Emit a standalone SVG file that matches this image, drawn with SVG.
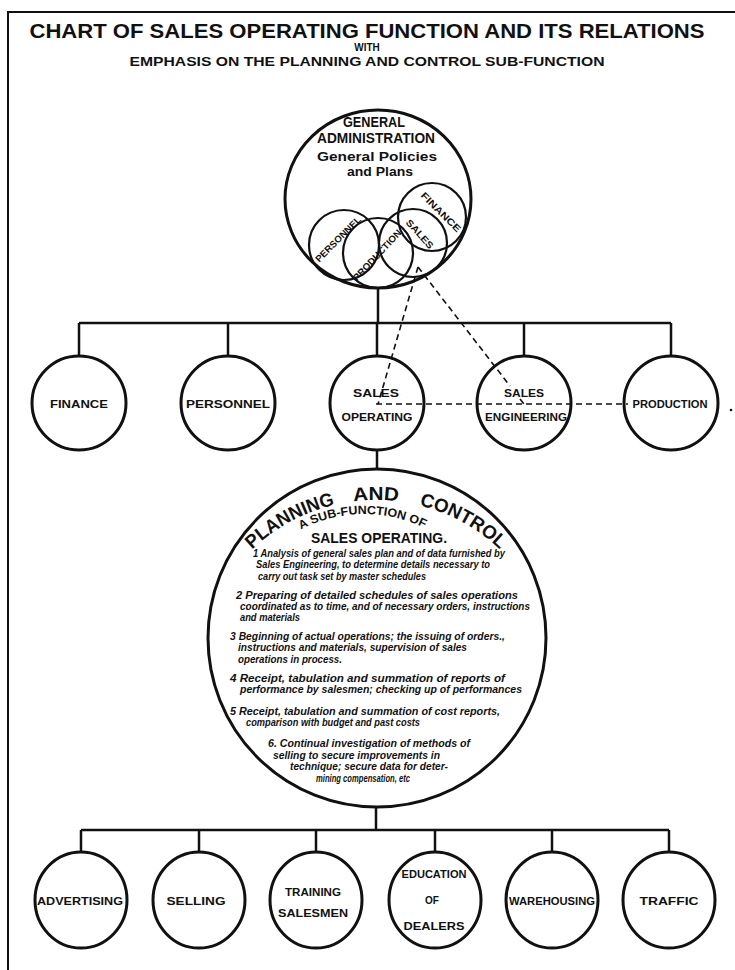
<svg xmlns="http://www.w3.org/2000/svg" width="735" height="970" viewBox="0 0 735 970">
<style>
  .frame { fill: none; stroke: #111; stroke-width: 2; }
  .node { fill: none; stroke: #111; stroke-width: 3; }
  .sub { fill: none; stroke: #111; stroke-width: 2.2; }
  .wire { fill: none; stroke: #111; stroke-width: 2.5; }
  .dash { fill: none; stroke: #111; stroke-width: 1.6; stroke-dasharray: 6 4; }
  .lb { font-family: "Liberation Sans", Arial, sans-serif; font-weight: bold; fill: #111; text-anchor: middle; }
  .arc { font-family: "Liberation Sans", Arial, sans-serif; font-weight: bold; fill: #111; }
  .it { font-family: "Liberation Sans", Arial, sans-serif; font-style: italic; font-weight: bold; font-size: 10px; fill: #111; }
</style>
<defs>
  <!-- baselines for the curved lettering inside the sub-function circle -->
  <path id="arcBig" d="M250,551.5 A180,180 0 0 1 502,551.5"/>
  <path id="arcSmall" d="M300,530 A136,136 0 0 1 428,530"/>
</defs>
<rect x="0" y="0" width="735" height="970" fill="#fff"/>

<!-- sheet border -->
<path class="frame" d="M8,970 V12 H735"/>

<!-- heading -->
<g id="heading">
  <text class="lb" x="367" y="38" font-size="20" textLength="675" lengthAdjust="spacingAndGlyphs">CHART OF SALES OPERATING FUNCTION AND ITS RELATIONS</text>
  <text class="lb" x="367" y="51" font-size="10">WITH</text>
  <text class="lb" x="367" y="66" font-size="13" textLength="475" lengthAdjust="spacingAndGlyphs">EMPHASIS ON THE PLANNING AND CONTROL SUB-FUNCTION</text>
</g>

<!-- connectors -->
<g id="connectors">
  <path class="wire" d="M378,288 V323 M79,323 H671 M79,323 V356 M228,323 V356 M377,323 V356 M524,323 V356 M671,323 V356"/>
  <path class="wire" d="M377,449 V469"/>
  <path class="wire" d="M376,807 V830 M81,830 H669 M81,830 V852 M199,830 V852 M316,830 V852 M435,830 V852 M552,830 V852 M669,830 V852"/>
  <path class="dash" d="M418,267 L378,404"/>
  <path class="dash" d="M418,267 L510,386 M520,399 L524,404"/>
  <path class="dash" d="M376,404 H628"/>
  <circle cx="731" cy="410" r="1.3" fill="#111"/>
</g>

<!-- top node -->
<g id="general-administration">
  <ellipse class="node" cx="378" cy="199" rx="93" ry="89"/>
  <text class="lb" x="374" y="127" font-size="14" textLength="62" lengthAdjust="spacingAndGlyphs">GENERAL</text>
  <text class="lb" x="376" y="143" font-size="14" textLength="118" lengthAdjust="spacingAndGlyphs">ADMINISTRATION</text>
  <text class="lb" x="377" y="161" font-size="13" textLength="120" lengthAdjust="spacingAndGlyphs">General Policies</text>
  <text class="lb" x="380" y="176" font-size="13" textLength="66" lengthAdjust="spacingAndGlyphs">and Plans</text>
  <circle class="sub" cx="344" cy="245" r="35"/>
  <circle class="sub" cx="378" cy="253" r="35"/>
  <circle class="sub" cx="413" cy="243" r="34"/>
  <circle class="sub" cx="432" cy="217" r="34"/>
  <text class="lb" font-size="9.5" transform="translate(338,239) rotate(-45)" y="3.5" textLength="60" lengthAdjust="spacingAndGlyphs">PERSONNEL</text>
  <text class="lb" font-size="9.5" transform="translate(377,255) rotate(-47)" y="3.5" textLength="66" lengthAdjust="spacingAndGlyphs">PRODUCTION</text>
  <text class="lb" font-size="9.5" transform="translate(420,234) rotate(48)" y="3.5" textLength="36" lengthAdjust="spacingAndGlyphs">SALES</text>
  <text class="lb" font-size="9.5" transform="translate(441,212) rotate(45)" y="3.5" textLength="52" lengthAdjust="spacingAndGlyphs">FINANCE</text>
</g>

<!-- second level -->
<g id="finance">
  <ellipse class="node" cx="79" cy="403" rx="47" ry="47"/>
  <text class="lb" x="79" y="408" font-size="11" textLength="58" lengthAdjust="spacingAndGlyphs">FINANCE</text>
</g>
<g id="personnel">
  <ellipse class="node" cx="228" cy="403" rx="47" ry="47"/>
  <text class="lb" x="228" y="408" font-size="11" textLength="84" lengthAdjust="spacingAndGlyphs">PERSONNEL</text>
</g>
<g id="sales-operating">
  <ellipse class="node" cx="377" cy="403" rx="47" ry="47"/>
  <text class="lb" x="376" y="397" font-size="11" textLength="46" lengthAdjust="spacingAndGlyphs">SALES</text>
  <text class="lb" x="377" y="421" font-size="11" textLength="71" lengthAdjust="spacingAndGlyphs">OPERATING</text>
</g>
<g id="sales-engineering">
  <ellipse class="node" cx="524" cy="403" rx="47" ry="47"/>
  <text class="lb" x="524" y="397" font-size="11" textLength="40" lengthAdjust="spacingAndGlyphs">SALES</text>
  <text class="lb" x="526" y="421" font-size="10" textLength="82" lengthAdjust="spacingAndGlyphs">ENGINEERING</text>
</g>
<g id="production">
  <ellipse class="node" cx="671" cy="403" rx="47" ry="47"/>
  <text class="lb" x="670" y="408" font-size="10" textLength="75" lengthAdjust="spacingAndGlyphs">PRODUCTION</text>
</g>

<!-- planning and control sub-function -->
<g id="planning-and-control">
  <circle class="node" cx="377" cy="638" r="169"/>
  <text class="arc" font-size="19"><textPath href="#arcBig" startOffset="3" textLength="95" lengthAdjust="spacingAndGlyphs">PLANNING</textPath></text>
  <text class="arc" font-size="19"><textPath href="#arcBig" startOffset="117" textLength="45" lengthAdjust="spacingAndGlyphs">AND</textPath></text>
  <text class="arc" font-size="19"><textPath href="#arcBig" startOffset="183" textLength="93" lengthAdjust="spacingAndGlyphs">CONTROL</textPath></text>
  <text class="arc" font-size="12"><textPath href="#arcSmall" startOffset="1" textLength="128" lengthAdjust="spacingAndGlyphs">A SUB-FUNCTION OF</textPath></text>
  <text class="lb" x="379" y="543" font-size="15" textLength="136" lengthAdjust="spacingAndGlyphs">SALES OPERATING.</text>
  <text class="it" x="253" y="557" textLength="252" lengthAdjust="spacingAndGlyphs">1 Analysis of general sales plan and of data furnished by</text>
  <text class="it" x="256" y="568" textLength="234" lengthAdjust="spacingAndGlyphs">Sales Engineering, to determine details necessary to</text>
  <text class="it" x="258" y="580" textLength="168" lengthAdjust="spacingAndGlyphs">carry out task set by master schedules</text>
  <text class="it" x="236" y="599" textLength="282" lengthAdjust="spacingAndGlyphs">2 Preparing of detailed schedules of sales operations</text>
  <text class="it" x="240" y="610" textLength="290" lengthAdjust="spacingAndGlyphs">coordinated as to time, and of necessary orders, instructions</text>
  <text class="it" x="240" y="621" textLength="60" lengthAdjust="spacingAndGlyphs">and materials</text>
  <text class="it" x="230" y="640" textLength="275" lengthAdjust="spacingAndGlyphs">3 Beginning of actual operations; the issuing of orders.,</text>
  <text class="it" x="238" y="651" textLength="229" lengthAdjust="spacingAndGlyphs">instructions and materials, supervision of sales</text>
  <text class="it" x="238" y="663" textLength="104" lengthAdjust="spacingAndGlyphs">operations in process.</text>
  <text class="it" x="230" y="682" textLength="275" lengthAdjust="spacingAndGlyphs">4 Receipt, tabulation and summation of reports of</text>
  <text class="it" x="240" y="693" textLength="282" lengthAdjust="spacingAndGlyphs">performance by salesmen; checking up of performances</text>
  <text class="it" x="230" y="715" textLength="270" lengthAdjust="spacingAndGlyphs">5 Receipt, tabulation and summation of cost reports,</text>
  <text class="it" x="246" y="726" textLength="174" lengthAdjust="spacingAndGlyphs">comparison with budget and past costs</text>
  <text class="it" x="268" y="747" textLength="202" lengthAdjust="spacingAndGlyphs">6. Continual investigation of methods of</text>
  <text class="it" x="273" y="759" textLength="167" lengthAdjust="spacingAndGlyphs">selling to secure improvements in</text>
  <text class="it" x="290" y="770" textLength="158" lengthAdjust="spacingAndGlyphs">technique; secure data for deter-</text>
  <text class="it" x="316" y="782" textLength="94" lengthAdjust="spacingAndGlyphs">mining compensation, etc</text>
</g>

<!-- third level -->
<g id="advertising">
  <ellipse class="node" cx="81" cy="900" rx="46" ry="48"/>
  <text class="lb" x="80" y="905" font-size="10" textLength="86" lengthAdjust="spacingAndGlyphs">ADVERTISING</text>
</g>
<g id="selling">
  <ellipse class="node" cx="199" cy="900" rx="46" ry="48"/>
  <text class="lb" x="196" y="905" font-size="11" textLength="59" lengthAdjust="spacingAndGlyphs">SELLING</text>
</g>
<g id="training-salesmen">
  <ellipse class="node" cx="316" cy="900" rx="46" ry="48"/>
  <text class="lb" x="313" y="896" font-size="10" textLength="56" lengthAdjust="spacingAndGlyphs">TRAINING</text>
  <text class="lb" x="313" y="917" font-size="10" textLength="70" lengthAdjust="spacingAndGlyphs">SALESMEN</text>
</g>
<g id="education-of-dealers">
  <ellipse class="node" cx="435" cy="900" rx="46" ry="48"/>
  <text class="lb" x="434" y="878" font-size="10" textLength="65" lengthAdjust="spacingAndGlyphs">EDUCATION</text>
  <text class="lb" x="432" y="904" font-size="10">OF</text>
  <text class="lb" x="434" y="930" font-size="10" textLength="61" lengthAdjust="spacingAndGlyphs">DEALERS</text>
</g>
<g id="warehousing">
  <ellipse class="node" cx="552" cy="900" rx="46" ry="48"/>
  <text class="lb" x="552" y="905" font-size="10" textLength="86" lengthAdjust="spacingAndGlyphs">WAREHOUSING</text>
</g>
<g id="traffic">
  <ellipse class="node" cx="669" cy="900" rx="46" ry="48"/>
  <text class="lb" x="669" y="905" font-size="11" textLength="59" lengthAdjust="spacingAndGlyphs">TRAFFIC</text>
</g>
</svg>
